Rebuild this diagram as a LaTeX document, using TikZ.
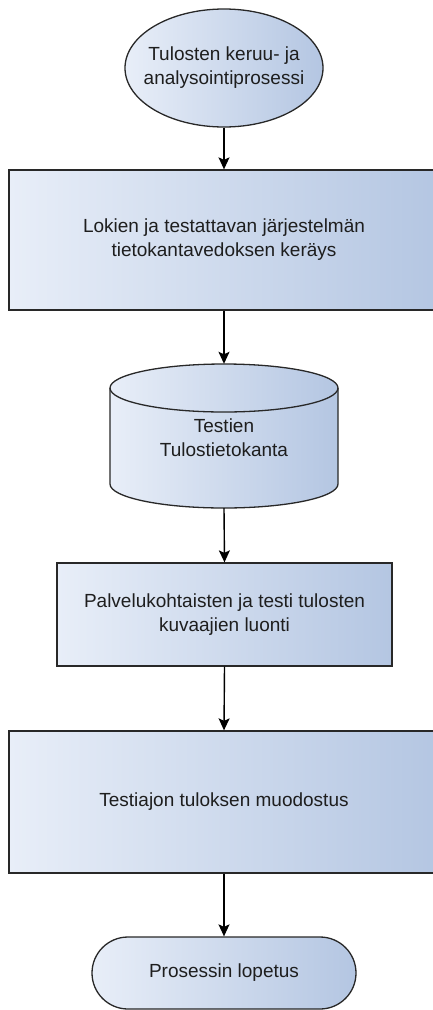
\documentclass[tikz,border=0pt]{standalone}
\usepackage{fontspec}
\setmainfont{Liberation Sans}
\usetikzlibrary{shapes.geometric, shapes.misc, arrows.meta}

\definecolor{fillL}{RGB}{232,238,248}
\definecolor{fillR}{RGB}{180,198,226}
\definecolor{edge}{RGB}{40,40,40}
\definecolor{ink}{RGB}{30,30,30}

\tikzset{
  grad/.style={left color=fillL, right color=fillR, draw=edge, line width=1.3pt},
  label/.style={text=ink, font=\fontsize{19pt}{24pt}\selectfont, align=center},
  procbox/.style={grad, label, rectangle, inner sep=0pt},
  startnode/.style={grad, ellipse, inner sep=0pt},
  endnode/.style={grad, label, rounded rectangle, inner sep=0pt},
  flow/.style={draw=black, line width=1.4pt, -{Stealth[length=12pt, width=11pt, inset=2.5pt]}},
}

\begin{document}
\begin{tikzpicture}[x=1pt, y=-1pt]
  \useasboundingbox (0,0) rectangle (433,1010);

  % start ellipse (fixed size, text set on top)
  \node[startnode, minimum width=198pt, minimum height=118pt] (start) at (224,68) {};
  \node[label] (starttext) at (start.center) {Tulosten keruu- ja\\analysointiprosessi};

  % collection step
  \node[procbox, minimum width=430pt, minimum height=140pt] (collect) at (224,240)
    {Lokien ja testattavan järjestelmän\\tietokantavedoksen keräys};

  % database cylinder
  \node[minimum width=228pt, minimum height=144pt, inner sep=0pt] (db) at (224,436) {};
  \shade[left color=fillL, right color=fillR, draw=edge, line width=1.3pt]
    (110,388) -- (110,484)
    arc[start angle=180, end angle=360, x radius=114pt, y radius=24pt]
    -- (338,388)
    arc[start angle=0, end angle=180, x radius=114pt, y radius=24pt]
    -- cycle;
  \draw[draw=edge, line width=1.3pt] (110,388)
    arc[start angle=180, end angle=360, x radius=114pt, y radius=24pt];
  \node[label] (dbtext) at (224,438) {Testien\\Tulostietokanta};

  % chart generation
  \node[procbox, minimum width=335pt, minimum height=103pt] (charts) at (224.5,614.5)
    {Palvelukohtaisten ja testi tulosten\\kuvaajien luonti};

  % result forming
  \node[procbox, minimum width=430pt, minimum height=142pt] (result) at (224,802)
    {Testiajon tuloksen muodostus};

  % end terminal
  \node[endnode, minimum width=264pt, minimum height=72pt] (stop) at (224,973)
    {Prosessin lopetus};

  % connectors
  \draw[flow] (start.south) -- (collect.north);
  \draw[flow] (collect.south) -- (db.north);
  \draw[flow] (db.south) -- (charts.north);
  \draw[flow] (charts.south) -- (result.north);
  \draw[flow] (result.south) -- (stop.north);
\end{tikzpicture}
\end{document}
